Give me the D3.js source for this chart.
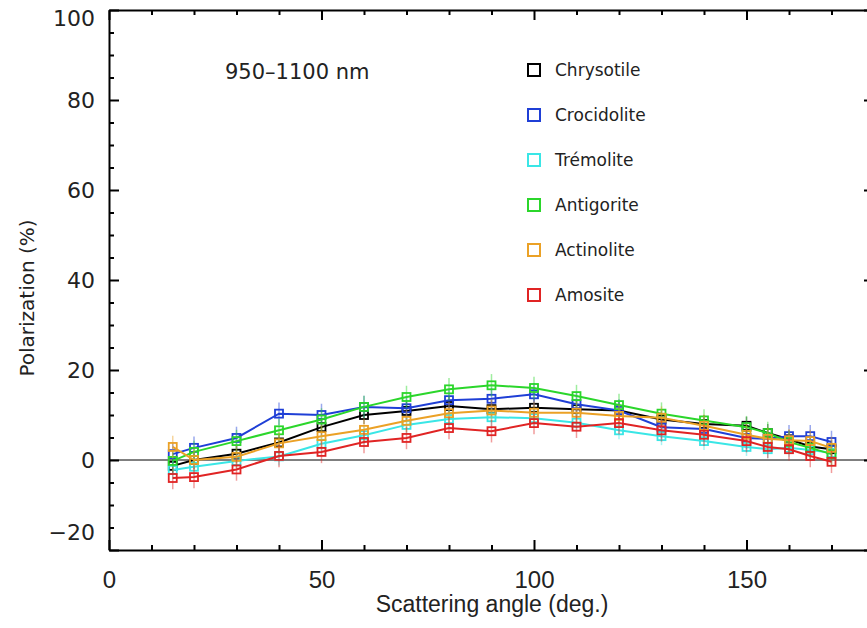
<!DOCTYPE html>
<html>
<head>
<meta charset="utf-8">
<script src="https://cdn.jsdelivr.net/npm/d3@7"></script>
<style>
  body { margin: 0; background: #fff; }
  svg { display: block; }
</style>
</head>
<body>
<svg id="chart"></svg>
<script>
// scattering angles (deg.)
var angles = [15, 20, 30, 40, 50, 60, 70, 80, 90, 100, 110, 120, 130, 140, 150, 155, 160, 165, 170];

// polarization (%)
var chrysotile  = [-1.3, 0.0, 1.4, 3.9, 7.3, 10.0, 10.9, 12.0, 11.3, 11.6, 11.3, 11.0, 9.0, 8.0, 7.6, 6.0, 4.6, 3.0, 2.4];
var crocidolite = [1.3, 2.7, 4.9, 10.3, 10.0, 11.8, 11.5, 13.3, 13.6, 14.6, 12.4, 11.0, 7.3, 6.9, 4.9, 4.7, 5.3, 5.3, 4.0];
var tremolite   = [-2.2, -1.5, -0.2, 0.8, 3.6, 5.5, 7.8, 9.1, 9.5, 9.3, 8.3, 6.6, 5.3, 4.2, 2.9, 2.4, 2.7, 2.2, 1.6];
var antigorite  = [-0.2, 1.8, 4.2, 6.6, 9.0, 11.8, 14.0, 15.7, 16.6, 16.0, 14.2, 12.2, 10.3, 8.8, 7.3, 6.0, 4.0, 2.7, 1.3];
var actinolite  = [2.9, 0.0, 0.7, 3.7, 5.3, 6.7, 8.7, 10.4, 11.0, 10.5, 10.5, 9.8, 9.4, 7.6, 5.6, 4.7, 4.4, 4.2, 2.7];
var amosite     = [-4.0, -3.8, -2.1, 0.9, 1.8, 4.0, 4.9, 7.1, 6.4, 8.2, 7.4, 8.2, 6.6, 5.6, 4.2, 2.9, 2.4, 0.9, -0.4];

// error bar half-widths (%) per series
var errors = [2.0, 2.5, 2.0, 2.5, 2.5, 2.5];

var names  = ['Chrysotile', 'Crocidolite', 'Trémolite', 'Antigorite', 'Actinolite', 'Amosite'];
var colors = ['#000000', '#1f3fd6', '#3ae6e6', '#2bd62b', '#eba126', '#e02424'];
var values = [chrysotile, crocidolite, tremolite, antigorite, actinolite, amosite];

var xTicks = [0, 50, 100, 150];
var yTicks = [-20, 0, 20, 40, 60, 80, 100];

var width = 867, height = 628;
var margin = {top: 10, right: -7, bottom: 78, left: 109};

var svg = d3.select('#chart')
    .attr('width', width)
    .attr('height', height);

var innerW = width - margin.left - margin.right;
var innerH = height - margin.top - margin.bottom;

var chart = svg.append('g')
    .attr('transform', `translate(${margin.left}, ${margin.top})`);

var xscale = d3.scaleLinear().domain([0, 180]).range([0, innerW]);
var yscale = d3.scaleLinear().domain([-20, 100]).range([innerH, 0]);

var minorX = d3.range(0, 181, 10).filter(d => d % 50 != 0);
var minorY = d3.range(-20, 101, 5).filter(d => d % 20 != 0);

// zero line
chart.append('line')
    .attr('x1', xscale(0)).attr('x2', xscale(180))
    .attr('y1', yscale(0)).attr('y2', yscale(0))
    .attr('stroke', '#000').attr('stroke-width', 1);

// axes, ticks pointing in on all four sides
function frame(axisFn, scale, major, minor, tr, labels) {
    var g = chart.append('g').attr('transform', tr);
    g.call(axisFn(scale).tickValues(major).tickSize(-10).tickSizeOuter(0).tickPadding(labels ? 16 : 0)
        .tickFormat(labels ? (d => d < 0 ? '\u2212' + Math.abs(d) : d) : ''));
    g.append('g').attr('class', 'minor')
        .call(axisFn(scale).tickValues(minor).tickSize(-5).tickFormat(''));
    g.select('.minor path.domain').remove();
    g.selectAll('path').attr('stroke', '#000').attr('stroke-width', 2);
    g.selectAll('line').attr('stroke', '#000').attr('stroke-width', 2);
    return g;
}

var xb = frame(d3.axisBottom, xscale, xTicks, minorX, `translate(0, ${innerH})`, true);
frame(d3.axisTop, xscale, xTicks, minorX, 'translate(0, 0)', false);
var yl = frame(d3.axisLeft, yscale, yTicks, minorY, 'translate(0, 0)', true);
frame(d3.axisRight, yscale, yTicks, minorY, `translate(${innerW}, 0)`, false);

xb.selectAll('text')
    .attr('font-family', 'Liberation Sans, sans-serif')
    .attr('font-size', 24).attr('fill', '#222')
    .attr('dy', '0.9em');
yl.selectAll('text')
    .attr('font-family', 'DejaVu Sans, sans-serif')
    .attr('font-size', 22).attr('fill', '#222')
    .attr('x', -14)
    .attr('dy', d => d == 100 ? '0.72em' : (d == -20 ? '-0.5em' : '0.32em'));

// axis titles
svg.append('text')
    .attr('x', 492).attr('y', 612)
    .attr('text-anchor', 'middle')
    .attr('font-family', 'Liberation Sans, sans-serif')
    .attr('font-size', 23).attr('fill', '#222')
    .text('Scattering angle (deg.)');

svg.append('text')
    .attr('transform', 'translate(34, 298) rotate(-90)')
    .attr('text-anchor', 'middle')
    .attr('font-family', 'DejaVu Sans, sans-serif')
    .attr('font-size', 20).attr('fill', '#222')
    .text('Polarization (%)');

// series
var line = d3.line()
    .x((d, i) => xscale(angles[i]))
    .y(d => yscale(d));

values.forEach(function(vals, k) {
    var g = chart.append('g');
    g.selectAll('line.err')
        .data(vals)
        .enter()
        .append('line')
        .attr('x1', (d, i) => xscale(angles[i]))
        .attr('x2', (d, i) => xscale(angles[i]))
        .attr('y1', d => yscale(d - errors[k]))
        .attr('y2', d => yscale(d + errors[k]))
        .attr('stroke', colors[k]).attr('stroke-opacity', 0.45)
        .attr('stroke-width', 1.5);
    g.append('path')
        .datum(vals)
        .attr('d', line)
        .attr('fill', 'none')
        .attr('stroke', colors[k])
        .attr('stroke-width', 2);
    g.selectAll('rect')
        .data(vals)
        .enter()
        .append('rect')
        .attr('x', (d, i) => xscale(angles[i]) - 4)
        .attr('y', d => yscale(d) - 4)
        .attr('width', 8).attr('height', 8)
        .attr('fill', 'none')
        .attr('stroke', colors[k])
        .attr('stroke-width', 1.8);
});

// label and legend
svg.append('text')
    .attr('x', 225).attr('y', 79)
    .attr('font-family', 'DejaVu Sans, sans-serif')
    .attr('font-size', 21).attr('fill', '#222')
    .text('950\u20131100 nm');

var legend = svg.append('g').attr('transform', 'translate(528, 64)');
names.forEach(function(name, k) {
    legend.append('rect')
        .attr('x', 0).attr('y', k * 45)
        .attr('width', 12).attr('height', 12)
        .attr('fill', 'none')
        .attr('stroke', colors[k]).attr('stroke-width', 2);
    legend.append('text')
        .attr('x', 27).attr('y', k * 45 + 12)
        .attr('font-family', 'DejaVu Sans, sans-serif')
        .attr('font-size', 17).attr('fill', '#222')
        .text(name);
});
</script>
</body>
</html>
